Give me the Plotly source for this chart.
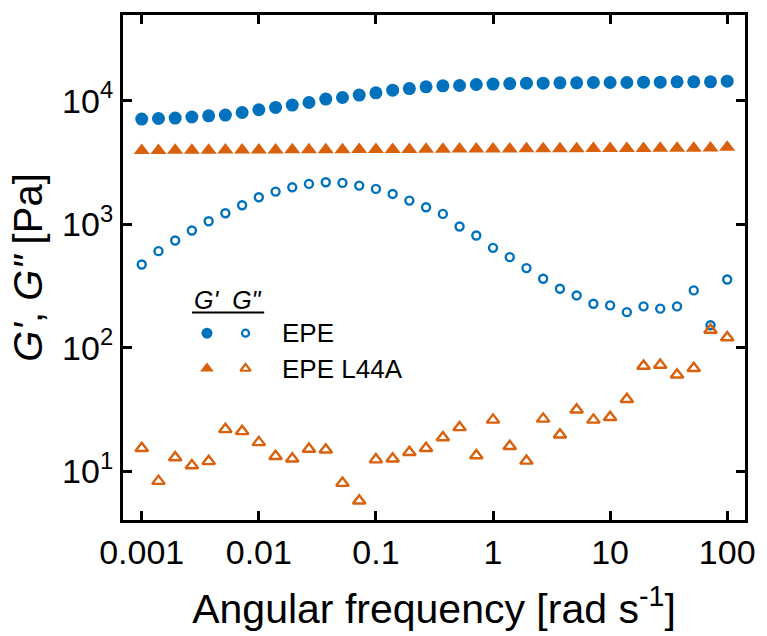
import plotly.graph_objects as go

# Angular frequency sweep [rad/s], 7 points per decade
freq = [0.001, 0.00139, 0.00193, 0.00268, 0.00373, 0.00518, 0.00720,
        0.01, 0.0139, 0.0193, 0.0268, 0.0373, 0.0518, 0.0720,
        0.1, 0.139, 0.193, 0.268, 0.373, 0.518, 0.720,
        1.0, 1.39, 1.93, 2.68, 3.73, 5.18, 7.20,
        10.0, 13.9, 19.3, 26.8, 37.3, 51.8, 72.0, 100.0]

# EPE storage (G') and loss (G'') moduli [Pa]
epe_gp = [7110, 7190, 7250, 7390, 7560, 7660, 8040, 8460, 8830, 9230,
          9690, 10320, 10630, 11120, 11610, 12200, 12570, 12970, 13210, 13300,
          13550, 13650, 13800, 13900, 13900, 13980, 13980, 14060, 14060, 14060,
          14160, 14160, 14240, 14240, 14240, 14430]
epe_gpp = [472, 605, 739, 889, 1057, 1227, 1425, 1653, 1838, 1991,
           2122, 2187, 2161, 2055, 1933, 1760, 1554, 1372, 1213, 958,
           810, 644, 541, 441, 362, 300, 265, 227, 220, 194,
           216, 207, 216, 291, 152, 357]

# EPE L44A storage (G') and loss (G'') moduli [Pa]
l44a_gp = [3950, 3960, 3970, 3970, 3980, 3990, 3990, 4000, 4000, 4010,
           4010, 4020, 4020, 4030, 4030, 4040, 4040, 4050, 4050, 4060,
           4060, 4070, 4070, 4080, 4080, 4090, 4090, 4100, 4100, 4110,
           4110, 4120, 4120, 4130, 4140, 4200]
l44a_gpp = [15.3, 8.3, 12.9, 11.1, 12.0, 21.8, 21.0, 17.1, 13.2, 12.6,
            15.1, 14.9, 8.0, 5.76, 12.4, 12.6, 14.2, 15.3, 18.7, 22.6,
            13.4, 26.0, 15.9, 12.1, 26.5, 19.7, 31.4, 26.0, 27.3, 38.2,
            71.1, 72.4, 60.3, 68.1, 139, 121]

x_ticks = [0.001, 0.01, 0.1, 1, 10, 100]
x_ticktext = ["0.001", "0.01", "0.1", "1", "10", "100"]
y_ticks = [10, 100, 1000, 10000]
y_ticktext = ["10<sup>1</sup>", "10<sup>2</sup>", "10<sup>3</sup>", "10<sup>4</sup>"]

samples = ["EPE", "EPE L44A"]

BLUE = "#0072BD"
ORANGE = "#D9600C"
FONT = "Liberation Sans, Arial, sans-serif"

fig = go.Figure()

fig.add_trace(go.Scatter(x=freq, y=epe_gp, mode="markers",
                         marker=dict(symbol="circle", size=13, color=BLUE, line=dict(width=0))))
fig.add_trace(go.Scatter(x=freq, y=epe_gpp, mode="markers",
                         marker=dict(symbol="circle-open", size=8, color=BLUE, line=dict(width=2.4))))
fig.add_trace(go.Scatter(x=freq, y=l44a_gp, mode="markers",
                         marker=dict(symbol="triangle-up", size=14, color=ORANGE, line=dict(width=0))))
fig.add_trace(go.Scatter(x=freq, y=l44a_gpp, mode="markers",
                         marker=dict(symbol="triangle-up-open", size=11, color=ORANGE, line=dict(width=2.4))))

# Legend keys drawn on a hidden overlay axis spanning the plot area (0..1)
key_gp_x, key_gpp_x = 0.135, 0.197
key_rows = [0.370, 0.300]
key_styles = [
    (BLUE, "circle", 11, "circle-open", 7),
    (ORANGE, "triangle-up", 12, "triangle-up-open", 9),
]
for yy, (col, sym_f, sz_f, sym_o, sz_o) in zip(key_rows, key_styles):
    fig.add_trace(go.Scatter(x=[key_gp_x], y=[yy], mode="markers", xaxis="x2", yaxis="y2",
                             marker=dict(symbol=sym_f, size=sz_f, color=col, line=dict(width=0))))
    fig.add_trace(go.Scatter(x=[key_gpp_x], y=[yy], mode="markers", xaxis="x2", yaxis="y2",
                             marker=dict(symbol=sym_o, size=sz_o, color=col, line=dict(width=2.2))))

axis_common = dict(
    showline=True, linecolor="black", linewidth=3, mirror="ticks",
    ticks="inside", ticklen=9, tickwidth=3, tickcolor="black",
    showgrid=False, zeroline=False,
    tickfont=dict(family=FONT, size=34, color="black"),
)

fig.update_layout(
    width=767, height=636,
    margin=dict(l=123, r=15, t=14, b=116),
    paper_bgcolor="white", plot_bgcolor="white",
    showlegend=False,
    font=dict(family=FONT, color="black"),
    xaxis=dict(type="log", range=[-3.16, 2.152], tickvals=x_ticks, ticktext=x_ticktext,
               title=dict(text="Angular frequency [rad s<sup>-1</sup>]",
                          font=dict(family=FONT, size=41, color="black"), standoff=25),
               **axis_common),
    yaxis=dict(type="log", range=[0.604, 4.695], tickvals=y_ticks, ticktext=y_ticktext,
               title=dict(text="<i>G'</i>, <i>G\"</i> [Pa]",
                          font=dict(family=FONT, size=40, color="black"), standoff=8),
               **axis_common),
    xaxis2=dict(overlaying="x", range=[0, 1], visible=False, anchor="y2"),
    yaxis2=dict(overlaying="y", range=[0, 1], visible=False, anchor="x2"),
)

# Legend header and labels
fig.add_annotation(xref="x2", yref="y2", x=0.169, y=0.435, text="<i>G'</i>  <i>G\"</i>",
                   showarrow=False, font=dict(family=FONT, size=25, color="black"))
fig.add_shape(type="line", xref="x2", yref="y2", x0=0.111, x1=0.227, y0=0.411, y1=0.411,
              line=dict(color="black", width=2))
for name, yy in zip(samples, key_rows):
    fig.add_annotation(xref="x2", yref="y2", x=0.252, y=yy, text=name, xanchor="left",
                       showarrow=False, font=dict(family=FONT, size=26, color="black"))

fig.write_html("out.html")
